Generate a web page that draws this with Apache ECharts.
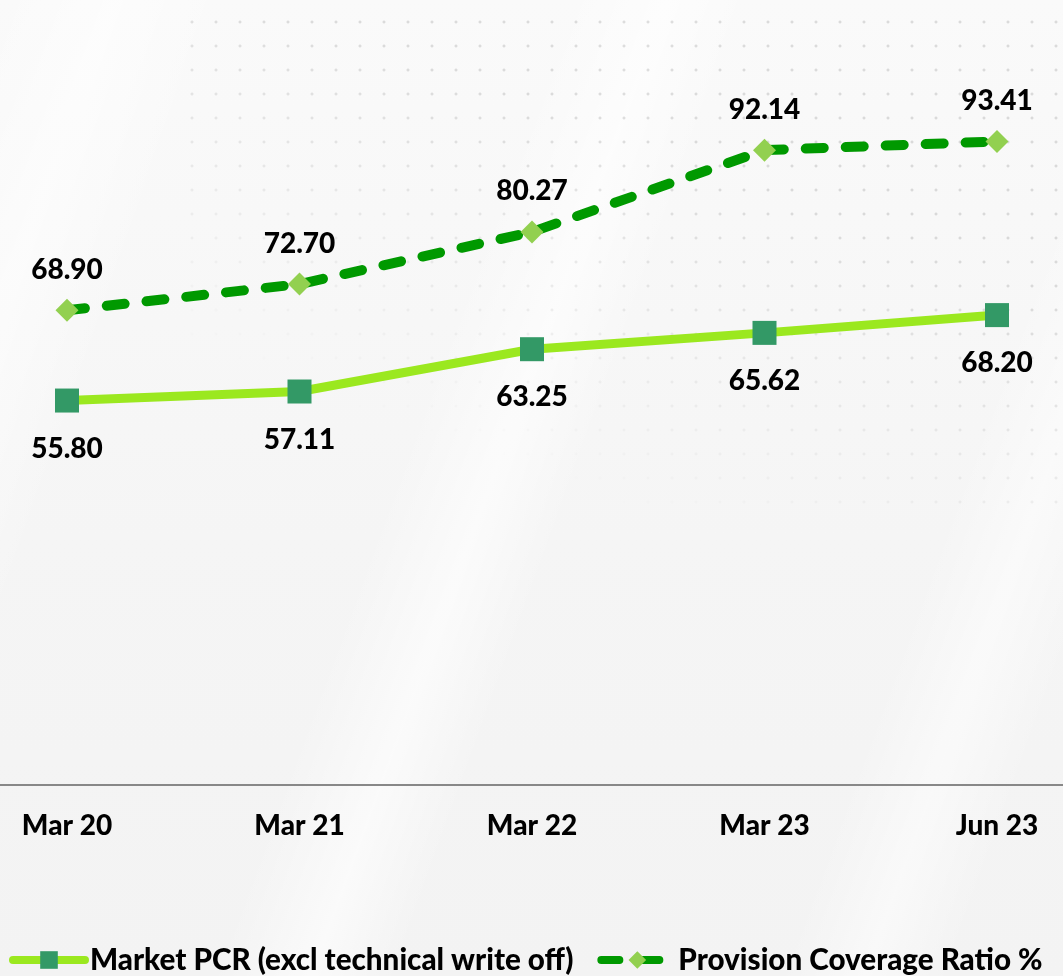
<!DOCTYPE html>
<html>
<head>
<meta charset="utf-8">
<script src="https://cdn.jsdelivr.net/npm/echarts@6/dist/echarts.min.js"></script>
<style>
  html, body { margin: 0; padding: 0; width: 1063px; height: 976px; overflow: hidden; }
  #bg {
    position: absolute; left: 0; top: 0; width: 1063px; height: 976px;
    background:
      linear-gradient(110deg,
        rgba(255,255,255,0) 0%, rgba(255,255,255,0.55) 8%, rgba(255,255,255,0) 16%,
        rgba(255,255,255,0) 40%, rgba(255,255,255,0.6) 47%, rgba(255,255,255,0) 53%,
        rgba(255,255,255,0) 80%, rgba(255,255,255,0.5) 86%, rgba(255,255,255,0) 92%),
      linear-gradient(to bottom, #fafafa 0%, #f5f5f5 55%, #f3f3f3 100%);
  }
  #dots {
    position: absolute; left: 180px; top: 0; width: 883px; height: 520px;
    background-image: radial-gradient(circle, rgba(0,0,0,0.12) 1.2px, rgba(0,0,0,0) 1.8px);
    background-size: 24px 24px;
    background-position: 0px 10px;
    -webkit-mask-image: linear-gradient(200deg, #000 35%, rgba(0,0,0,0) 80%);
    mask-image: linear-gradient(200deg, #000 35%, rgba(0,0,0,0) 80%);
  }
  #chart { position: absolute; left: 0; top: 0; width: 1063px; height: 976px; }
</style>
</head>
<body>
<div id="bg"></div>
<div id="dots"></div>
<div id="chart"></div>
<script>
// Period labels along the x axis
const periods = ['Mar 20', 'Mar 21', 'Mar 22', 'Mar 23', 'Jun 23'];
// Market PCR excluding technical write-off (%)
const marketPcr = [55.80, 57.11, 63.25, 65.62, 68.20];
// Provision Coverage Ratio (%)
const provisionCoverage = [68.90, 72.70, 80.27, 92.14, 93.41];

const seriesNames = ['Market PCR (excl technical write off)', 'Provision Coverage Ratio %'];

const FONT = 'Lato, "Open Sans", sans-serif';
const labelStyle = { fontFamily: FONT, fontWeight: 900, fontSize: 28, color: '#000' };

const chart = echarts.init(document.getElementById('chart'), null, { renderer: 'canvas' });

chart.setOption({
  backgroundColor: 'transparent',
  animation: false,
  grid: [
    { left: 67, right: 66, top: 96, bottom: 191 },
    { left: 0, right: 0, top: 96, bottom: 191 }
  ],
  xAxis: [
    {
      type: 'category', gridIndex: 0, data: periods, boundaryGap: false,
      axisLine: { show: false }, axisTick: { show: false },
      axisLabel: { ...labelStyle, margin: 27 }
    },
    {
      type: 'value', gridIndex: 1, min: 0, max: 1,
      axisLine: { show: true, onZero: false, lineStyle: { color: '#888888', width: 2 } },
      axisTick: { show: false }, axisLabel: { show: false }, splitLine: { show: false }
    }
  ],
  yAxis: [
    { type: 'value', gridIndex: 0, min: 0, max: 100, show: false, splitLine: { show: false } },
    { type: 'value', gridIndex: 1, min: 0, max: 1, show: false, splitLine: { show: false } }
  ],
  legend: {
    left: 4, top: 940,
    itemWidth: 72, itemHeight: 22, itemGap: 24,
    data: seriesNames,
    lineStyle: { width: 8, cap: 'round' },
    textStyle: { ...labelStyle, fontSize: 29.6 }
  },
  series: [
    {
      name: seriesNames[0], type: 'line', xAxisIndex: 0, yAxisIndex: 0,
      data: marketPcr,
      symbol: 'rect', symbolSize: 24,
      itemStyle: { color: '#339966' },
      lineStyle: { color: '#9BE81F', width: 9 },
      label: {
        show: true, position: 'bottom', distance: 22, ...labelStyle,
        formatter: p => p.value.toFixed(2)
      },
      z: 3
    },
    {
      name: seriesNames[1], type: 'line', xAxisIndex: 0, yAxisIndex: 0,
      data: provisionCoverage,
      symbol: 'diamond', symbolSize: 23,
      itemStyle: { color: '#92D050' },
      lineStyle: { color: '#009900', width: 10, type: [18, 22], cap: 'round' },
      label: {
        show: true, position: 'top', distance: 15, ...labelStyle,
        formatter: p => p.value.toFixed(2)
      },
      z: 3
    }
  ]
});
</script>
</body>
</html>
